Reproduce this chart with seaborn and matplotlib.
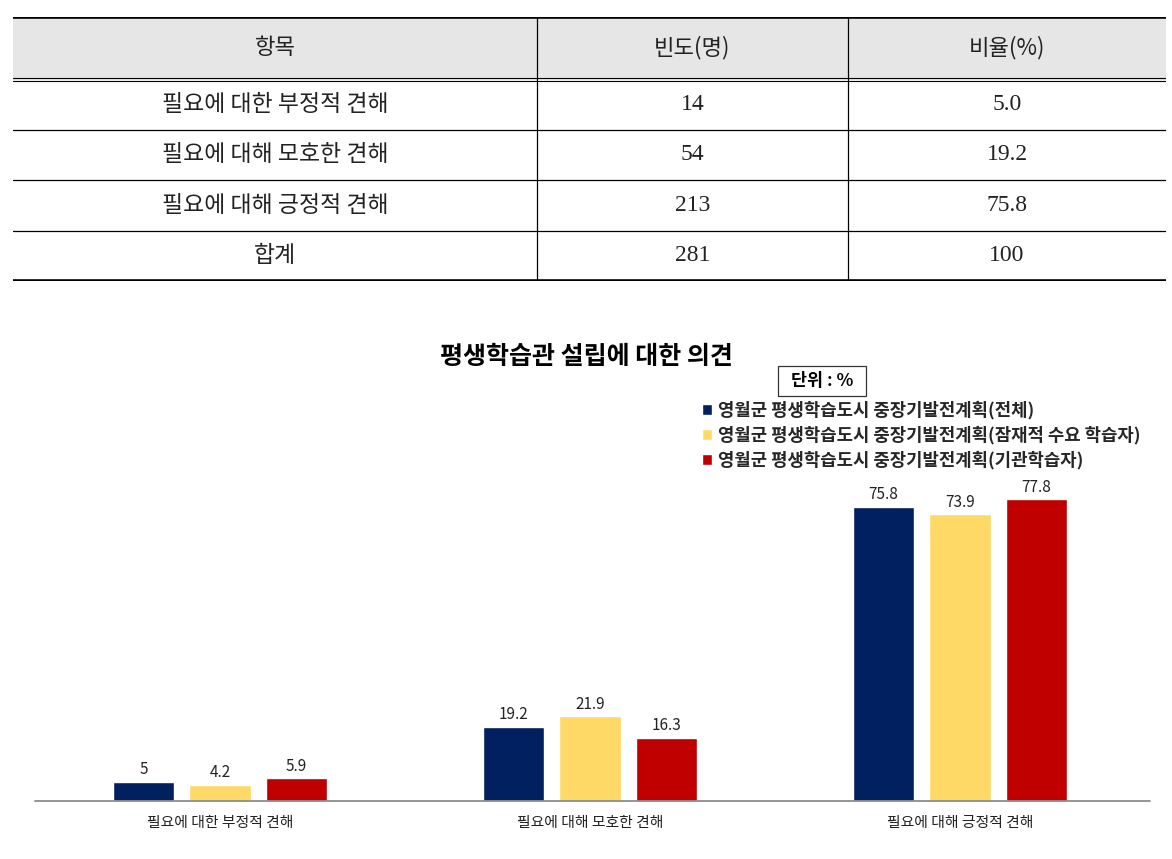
import numpy as np
import pandas as pd
import matplotlib
matplotlib.use("Agg")
import matplotlib.pyplot as plt
from matplotlib.patches import Rectangle
import seaborn as sns

# ---------------- data ----------------
table_header = ["항목", "빈도(명)", "비율(%)"]
table_items = ["필요에 대한 부정적 견해", "필요에 대해 모호한 견해", "필요에 대해 긍정적 견해", "합계"]
table_counts = ["14", "54", "213", "281"]
table_ratios = ["5.0", "19.2", "75.8", "100"]

chart_title = "평생학습관 설립에 대한 의견"
unit_label = "단위 : %"
categories = ["필요에 대한 부정적 견해", "필요에 대해 모호한 견해", "필요에 대해 긍정적 견해"]
series_names = ["영월군 평생학습도시 중장기발전계획(전체)",
                "영월군 평생학습도시 중장기발전계획(잠재적 수요 학습자)",
                "영월군 평생학습도시 중장기발전계획(기관학습자)"]
values_total = [5, 19.2, 75.8]
values_potential = [4.2, 21.9, 73.9]
values_institution = [5.9, 16.3, 77.8]
series_colors = ["#002060", "#FFD966", "#C00000"]

# ---------------- setup ----------------
sns.set_theme(style="white")
plt.rcParams["font.family"] = ["Noto Sans CJK KR", "DejaVu Sans"]

W, H = 1172, 859
fig = plt.figure(figsize=(W / 100, H / 100), dpi=100)
fig.patch.set_facecolor("white")

def fx(px):
    return px / W

def fy(py):
    return 1 - py / H

# ---------------- table ----------------
tl, tr, tt, tb = 13, 1166, 17, 281
tax = fig.add_axes([fx(tl), fy(tb), fx(tr) - fx(tl), fy(tt) - fy(tb)])
tax.set_xlim(0, tr - tl)
tax.set_ylim(tb - tt, 0)
tax.axis("off")
header_h = 62
row_h = (tb - tt - header_h) / len(table_items)
col_edges = [0, 524, 835, tr - tl]
tax.axhspan(0, header_h, color="#e6e6e6", zorder=0)
tax.axhline(0, color="black", lw=2.6, zorder=3)
tax.axhline(tb - tt, color="black", lw=2.6, zorder=3)
tax.axhline(header_h - 1.2, color="black", lw=0.8)
tax.axhline(header_h + 1.8, color="black", lw=0.8)
for k in range(1, len(table_items)):
    tax.axhline(header_h + k * row_h, color="black", lw=0.9)
for cx in col_edges[1:-1]:
    tax.plot([cx, cx], [0, tb - tt], color="black", lw=0.9)
col_centers = [(col_edges[i] + col_edges[i + 1]) / 2 for i in range(3)]
for i, h in enumerate(table_header):
    tax.text(col_centers[i], header_h / 2, h, ha="center", va="center",
             fontsize=16, color="#222222")
for r in range(len(table_items)):
    yc = header_h + (r + 0.5) * row_h
    for i, t in enumerate([table_items[r], table_counts[r], table_ratios[r]]):
        fam = ["Noto Sans CJK KR", "DejaVu Sans"] if i == 0 else ["Liberation Serif"]
        size = 16.5 if i == 0 else 17
        tax.text(col_centers[i], yc, t, ha="center", va="center",
                 fontsize=size, color="#222222", family=fam)

# ---------------- bar chart ----------------
al, ar, ab, at = 35, 1145, 801, 400
ax = fig.add_axes([fx(al), fy(ab), fx(ar) - fx(al), fy(at) - fy(ab)])
df = pd.DataFrame({
    "category": categories * 3,
    "series": [series_names[0]] * 3 + [series_names[1]] * 3 + [series_names[2]] * 3,
    "value": values_total + values_potential + values_institution,
})
sns.barplot(data=df, x="category", y="value", hue="series", order=categories,
            hue_order=series_names, palette=dict(zip(series_names, series_colors)),
            width=0.62, gap=0.2, saturation=1, ax=ax, errorbar=None)
ax.set_ylim(0, (ab - at) / 3.879)
ax.set_xlim(-0.5, 2.5)
for cont in ax.containers:
    ax.bar_label(cont, fmt="%g", padding=2.5, fontsize=11, color="#222222")
for s in ["top", "left", "right", "bottom"]:
    ax.spines[s].set_visible(False)
ax.plot([-0.5, 2.5 + 5 / 370], [0, 0], color="#8c8c8c", lw=1.3,
        clip_on=False, zorder=5)
ax.set_yticks([])
ax.set_xlabel("")
ax.set_ylabel("")
ax.tick_params(axis="x", length=0, pad=11, labelsize=10.7, labelcolor="#222222")
ax.set_facecolor("none")

handles, labels = ax.get_legend_handles_labels()
ax.legend(handles, labels, loc="upper left", bbox_to_anchor=(fx(702), fy(401)),
          bbox_transform=fig.transFigure, frameon=False,
          handlelength=0.55, handleheight=0.55, handletextpad=0.35,
          labelspacing=0.36, borderpad=0, borderaxespad=0,
          prop={"weight": "bold", "size": 12.8})

fig.text(fx(586), fy(357), chart_title, ha="center", va="center",
         fontsize=18, fontweight="bold", color="black")
# unit box
bx0, bx1, by0, by1 = 778, 866, 366, 396
fig.patches.append(Rectangle((fx(bx0), fy(by1)), fx(bx1) - fx(bx0), fy(by0) - fy(by1),
                             transform=fig.transFigure, facecolor="white",
                             edgecolor="#333333", linewidth=0.9, zorder=1))
fig.text(fx((bx0 + bx1) / 2), fy((by0 + by1) / 2), unit_label, ha="center", va="center",
         fontsize=12.5, fontweight="bold", color="black", zorder=2)

fig.savefig("out.png", dpi=100, facecolor="white")
